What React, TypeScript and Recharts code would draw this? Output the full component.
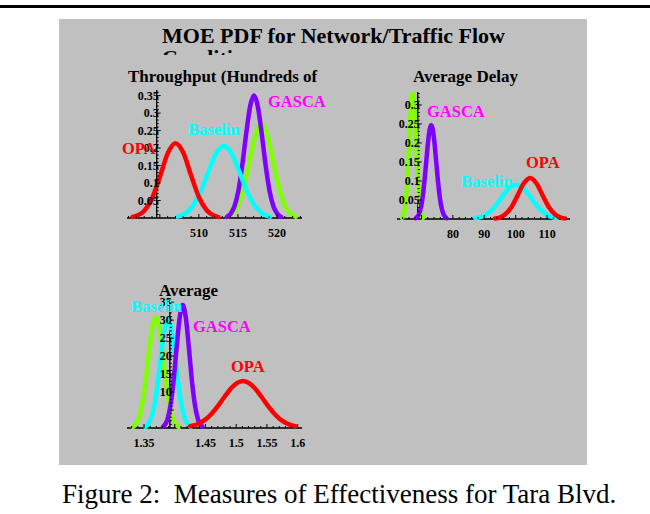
import { LineChart, Line, XAxis, YAxis, ReferenceLine, ReferenceDot } from 'recharts'

const serif = '"Liberation Serif", "Times New Roman", Times, serif'
const red = '#ff0000'
const cyan = '#00ffff'
const purple = '#8000ff'
const green = '#80ff00'
const magenta = '#ff00ff'

type Pt = [number, number]

// Throughput (hundreds of veh)
const tpOpa: Pt[] = [
  [501.5, 0.003], [502, 0.006], [503, 0.02], [504, 0.056], [505, 0.117], [506, 0.184], [507, 0.214],
  [508, 0.187], [509, 0.122], [510, 0.06], [511, 0.022], [512, 0.006], [512.5, 0.003],
]
const tpBase: Pt[] = [
  [507.3, 0.004], [508.2, 0.012], [509.2, 0.034], [510.2, 0.074], [511.2, 0.131], [512.2, 0.184], [513.2, 0.206],
  [514.2, 0.184], [515.2, 0.131], [516.2, 0.074], [517.2, 0.034], [518.2, 0.012], [519.1, 0.004],
]
const tpGasca: Pt[] = [
  [513.6, 0.003], [514.05, 0.012], [514.55, 0.033], [515.05, 0.077], [515.55, 0.15], [516.05, 0.24], [516.55, 0.318],
  [517.05, 0.35], [517.55, 0.318], [518.05, 0.24], [518.55, 0.15], [519.05, 0.077], [519.55, 0.033], [520.05, 0.012],
  [520.5, 0.003],
]
const tpOther: Pt[] = [
  [513.6, 0.004], [514, 0.008], [514.5, 0.018], [515, 0.036], [515.5, 0.067], [516, 0.111], [516.5, 0.164],
  [517, 0.216], [517.5, 0.255], [518, 0.27], [518.5, 0.255], [519, 0.216], [519.5, 0.164], [520, 0.111],
  [520.5, 0.067], [521, 0.036], [521.5, 0.018], [522, 0.008], [522.4, 0.004],
]

// Average delay
const dlOpa: Pt[] = [
  [93.4, 0.0015], [94.6, 0.003], [96.6, 0.012], [98.6, 0.031], [100.6, 0.062], [102.6, 0.094], [104.6, 0.108],
  [106.6, 0.094], [108.6, 0.062], [110.6, 0.031], [112.6, 0.012], [114.6, 0.003], [115.7, 0.0015],
]
const dlBase: Pt[] = [
  [87.2, 0.002], [88.2, 0.004], [90.2, 0.01], [92.2, 0.022], [94.2, 0.041], [96.2, 0.064], [98.2, 0.083],
  [100.2, 0.09], [102.2, 0.083], [104.2, 0.064], [106.2, 0.041], [108.2, 0.022], [110.2, 0.01], [112.2, 0.004],
  [113.2, 0.002],
]
const dlGasca: Pt[] = [
  [68.2, 0.002], [68.6, 0.005], [69.1, 0.011], [69.6, 0.023], [70.1, 0.042], [70.6, 0.073], [71.1, 0.113],
  [71.6, 0.159], [72.1, 0.203], [72.6, 0.235], [73.1, 0.247], [73.6, 0.235], [74.1, 0.203], [74.6, 0.159],
  [75.1, 0.113], [75.6, 0.073], [76.1, 0.042], [76.6, 0.023], [77.1, 0.011], [77.6, 0.005], [78, 0.002],
]
const dlOther: Pt[] = [
  [63.8, 0.003], [64.2, 0.008], [64.7, 0.025], [65.2, 0.063], [65.7, 0.13], [66.2, 0.218], [66.7, 0.298],
  [67.2, 0.33], [67.7, 0.298], [68.2, 0.218], [68.7, 0.13], [69.2, 0.063], [69.7, 0.025], [70.2, 0.008],
  [70.5, 0.003],
]

// Average (third MOE)
const avOpa: Pt[] = [
  [1.425, 0.5], [1.431, 0.7], [1.441, 1.4], [1.451, 2.5], [1.461, 4.2], [1.471, 6.3], [1.481, 8.7], [1.491, 10.9],
  [1.501, 12.5], [1.511, 13.1], [1.521, 12.5], [1.531, 10.9], [1.541, 8.7], [1.551, 6.3], [1.561, 4.2],
  [1.571, 2.5], [1.581, 1.4], [1.591, 0.7], [1.596, 0.5],
]
const avBase: Pt[] = [
  [1.352, 0.3], [1.354, 0.6], [1.359, 1.7], [1.364, 4.1], [1.369, 8.4], [1.374, 14.8], [1.379, 22], [1.384, 28],
  [1.389, 30.3], [1.394, 28], [1.399, 22], [1.404, 14.8], [1.409, 8.4], [1.414, 4.1], [1.419, 1.7], [1.424, 0.6],
  [1.426, 0.3],
]
const avGasca: Pt[] = [
  [1.381, 0.4], [1.383, 0.7], [1.388, 2.3], [1.393, 6.2], [1.398, 13], [1.403, 22.3], [1.408, 30.7], [1.413, 34.2],
  [1.418, 30.7], [1.423, 22.3], [1.428, 13], [1.433, 6.2], [1.438, 2.3], [1.443, 0.7], [1.445, 0.4],
]
const avOther: Pt[] = [
  [1.332, 0.3], [1.334, 0.6], [1.339, 1.7], [1.344, 4.2], [1.349, 8.6], [1.354, 15], [1.359, 22.4], [1.364, 28.4],
  [1.369, 30.8], [1.374, 28.4], [1.379, 22.4], [1.384, 15], [1.389, 8.6], [1.394, 4.2], [1.399, 1.7], [1.404, 0.6],
  [1.407, 0.3],
]

// tick labels
const tpXLabels = [510, 515, 520]
const tpYLabels = [0.05, 0.1, 0.15, 0.2, 0.25, 0.3, 0.35]
const dlXLabels = [80, 90, 100, 110]
const dlYLabels = [0.05, 0.1, 0.15, 0.2, 0.25, 0.3]
const avXLabels = [1.35, 1.45, 1.5, 1.55, 1.6]
const avYLabels = [10, 15, 20, 25, 30, 35]

const steps = (from: number, to: number, step: number) => {
  const out: number[] = []
  for (let i = 0; from + i * step <= to + step / 2; i++) out.push(Math.round((from + i * step) * 1000) / 1000)
  return out
}

const rows = (pts: Pt[]) => pts.map(([x, y]) => ({ x, y }))

const xTick = (major: boolean, label: string) => (p: any) => (
  <g>
    <line x1={p.cx} x2={p.cx} y1={p.cy} y2={p.cy - (major ? 4 : 2)} stroke="#000" strokeWidth={1} />
    {label && (
      <text x={p.cx} y={p.cy + 15} textAnchor="middle" dominantBaseline="central"
        fontFamily={serif} fontWeight={700} fontSize={12} fill="#000">{label}</text>
    )}
  </g>
)

const yTick = (major: boolean, label: string) => (p: any) => (
  <g>
    <line x1={p.cx} x2={p.cx + (major ? 4 : 2)} y1={p.cy} y2={p.cy} stroke="#000" strokeWidth={1} />
    {label && (
      <text x={p.cx + 2} y={p.cy} textAnchor="end" dominantBaseline="central"
        fontFamily={serif} fontWeight={700} fontSize={12} fill="#000">{label}</text>
    )}
  </g>
)

type PanelProps = {
  left: number; top: number; w: number; h: number
  xDomain: [number, number]; yDomain: [number, number]; origin: number
  xMinor: number[]; xMajor: number[]; xLabels: number[]
  yMinor: number[]; yMajor: number[]; yLabels: number[]
  series: { pts: Pt[]; color: string }[]
}

const pad = { top: 8, right: 8, bottom: 30, left: 8 }

function Panel(p: PanelProps) {
  return (
    <div style={{ position: 'absolute', left: p.left - pad.left, top: p.top - pad.top }}>
      <LineChart width={p.w + pad.left + pad.right} height={p.h + pad.top + pad.bottom} margin={pad}>
        <XAxis type="number" dataKey="x" domain={p.xDomain} hide />
        <YAxis type="number" domain={p.yDomain} hide />
        <ReferenceLine y={0} stroke="#000" strokeWidth={1.3} ifOverflow="visible" />
        <ReferenceLine x={p.origin} stroke="#000" strokeWidth={1.3} ifOverflow="visible" />
        {p.xMinor.map((v) => (
          <ReferenceDot key={'x' + v} x={v} y={0} r={0} ifOverflow="visible"
            shape={xTick(p.xMajor.includes(v), p.xLabels.includes(v) ? String(v) : '')} />
        ))}
        {p.yMinor.map((v) => (
          <ReferenceDot key={'y' + v} x={p.origin} y={v} r={0} ifOverflow="visible"
            shape={yTick(p.yMajor.includes(v), p.yLabels.includes(v) ? String(v) : '')} />
        ))}
        {p.series.map((s, i) => (
          <Line key={i} data={rows(s.pts)} dataKey="y" type="monotone" stroke={s.color} strokeWidth={4.5}
            strokeLinecap="round" strokeLinejoin="round" dot={false} isAnimationActive={false} />
        ))}
      </LineChart>
    </div>
  )
}

function Txt({ x, y, size, color = '#000', bold = true, children }: {
  x: number; y: number; size: number; color?: string; bold?: boolean; children: React.ReactNode
}) {
  return (
    <div style={{
      position: 'absolute', left: x, top: y - size / 2, fontSize: size, lineHeight: 1,
      fontWeight: bold ? 700 : 400, color, whiteSpace: 'nowrap', fontFamily: serif,
    }}>{children}</div>
  )
}

export default function App() {
  return (
    <div style={{ position: 'absolute', left: 0, top: 0, width: 650, height: 514, background: '#fff', overflow: 'hidden' }}>
      <div style={{ position: 'absolute', left: 0, top: 5, width: 650, height: 3, background: '#000' }} />
      <div style={{ position: 'absolute', left: 59, top: 19, width: 528, height: 446, background: '#c0c0c0' }} />

      <div style={{
        position: 'absolute', left: 162, top: 25, height: 30, overflow: 'hidden', fontFamily: serif,
        fontWeight: 700, fontSize: 22, lineHeight: '22px', whiteSpace: 'nowrap',
      }}>
        MOE PDF for Network/Traffic Flow<br />Conditions
      </div>

      <Panel left={127} top={90} w={175} h={128} xDomain={[500.8, 523.2]} yDomain={[0, 0.366]} origin={504.6}
        xMinor={steps(501, 523, 1)} xMajor={[505, 510, 515, 520]} xLabels={tpXLabels}
        yMinor={steps(0.01, 0.36, 0.01)} yMajor={tpYLabels} yLabels={tpYLabels}
        series={[
          { pts: tpOther, color: green }, { pts: tpGasca, color: purple },
          { pts: tpBase, color: cyan }, { pts: tpOpa, color: red },
        ]} />

      <Panel left={397} top={92} w={173} h={127} xDomain={[62.2, 117.3]} yDomain={[0, 0.334]} origin={68.8}
        xMinor={steps(64, 116, 2)} xMajor={[70, 80, 90, 100, 110]} xLabels={dlXLabels}
        yMinor={steps(0.01, 0.33, 0.01)} yMajor={dlYLabels} yLabels={dlYLabels}
        series={[
          { pts: dlOther, color: green }, { pts: dlGasca, color: purple },
          { pts: dlBase, color: cyan }, { pts: dlOpa, color: red },
        ]} />

      <Panel left={127} top={300} w={175} h={128} xDomain={[1.3223, 1.607]} yDomain={[0, 35.6]} origin={1.392}
        xMinor={steps(1.33, 1.6, 0.01)} xMajor={[1.35, 1.4, 1.45, 1.5, 1.55, 1.6]} xLabels={avXLabels}
        yMinor={steps(1, 35, 1)} yMajor={[5, ...avYLabels]} yLabels={avYLabels}
        series={[
          { pts: avOther, color: green }, { pts: avBase, color: cyan },
          { pts: avGasca, color: purple }, { pts: avOpa, color: red },
        ]} />

      <Txt x={128} y={76} size={17}>Throughput (Hundreds of</Txt>
      <Txt x={122} y={149} size={16.5} color={red}>OPA</Txt>
      <Txt x={188} y={130} size={16.5} color={cyan}>Baselin</Txt>
      <Txt x={268} y={102.5} size={16.5} color={magenta}>GASCA</Txt>

      <Txt x={413} y={76.5} size={17}>Average Delay</Txt>
      <Txt x={427} y={112.5} size={16.5} color={magenta}>GASCA</Txt>
      <Txt x={526} y={163.5} size={16.5} color={red}>OPA</Txt>
      <Txt x={461} y={182.5} size={16.5} color={cyan}>Baselin</Txt>

      <Txt x={159} y={290} size={17}>Average</Txt>
      <Txt x={131} y={307.5} size={16.5} color={cyan}>Baselin</Txt>
      <Txt x={193} y={327.5} size={16.5} color={magenta}>GASCA</Txt>
      <Txt x={231} y={367.5} size={16.5} color={red}>OPA</Txt>

      <Txt x={62} y={494} size={27} bold={false}>Figure 2:&nbsp; Measures of Effectiveness for Tara Blvd.</Txt>
    </div>
  )
}
